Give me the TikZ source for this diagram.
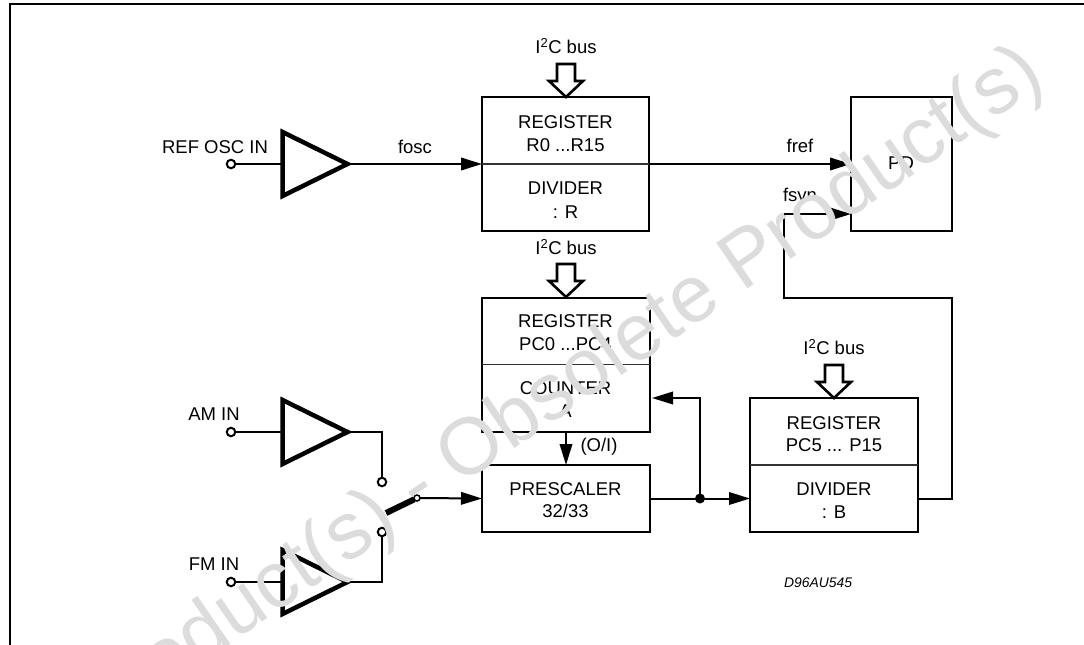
\documentclass[tikz,border=0pt]{standalone}
\usepackage{fontspec}
\setmainfont{Liberation Sans}
\usetikzlibrary{arrows.meta}
\definecolor{wm}{HTML}{DCDCDC}
\tikzset{
  x=1pt,y=-1pt,
  blockbox/.style={draw,line width=2pt,anchor=north west,inner sep=0pt,outer sep=0pt},
  divline/.style={line width=1.1pt,draw=black!80},
  wire/.style={line width=2pt},
  sig/.style={wire,-{Triangle[length=21pt,width=12.5pt]}},
  amp/.style={draw,line width=4.5pt,miter limit=10},
  term/.style={circle,draw,line width=2pt,fill=white,minimum size=8.5pt,inner sep=0pt,outer sep=0pt},
  bus/.style={draw,line width=2.6pt,fill=white,line join=miter,miter limit=10},
  lbl/.style={font=\fontsize{18.5pt}{22pt}\selectfont,inner sep=0pt,align=center},
  wmark/.style={text=wm,font=\fontsize{80.2pt}{84pt}\selectfont,rotate=34.5,inner sep=0pt}
}
\newcommand{\ampshape}[2]{\draw[amp] (#1,#2-32) -- (#1+65,#2) -- (#1,#2+32) -- cycle;}
\newcommand{\busarrow}[2]{\draw[bus] (#1-9,#2) -- (#1+9,#2) -- (#1+9,#2+17) -- (#1+17,#2+17) -- (#1,#2+33) -- (#1-17,#2+17) -- (#1-9,#2+17) -- cycle;}
\begin{document}
\begin{tikzpicture}
\useasboundingbox (0,0) rectangle (1084,645);
\clip (0,0) rectangle (1084,645);
\fill[white] (0,0) rectangle (1084,645);
% frame
\draw[line width=2.6pt] (10,645) -- (10,4) -- (1084,4);
% blocks
\node[blockbox,minimum width=167pt,minimum height=134pt] (R) at (482,97) {};
\node[blockbox,minimum width=168pt,minimum height=134pt] (C) at (482,297.5) {};
\node[blockbox,minimum width=168pt,minimum height=67pt] (P) at (482,465) {};
\node[blockbox,minimum width=168pt,minimum height=134pt] (B) at (750,398) {};
\node[blockbox,minimum width=101pt,minimum height=134pt] (PD) at (851,97) {};
\draw[divline] (R.west) -- (R.east);
\draw[divline] (C.west) -- (C.east);
\draw[divline] (B.west) -- (B.east);
% texts
\node[lbl] (t1) at (565.5,122) {REGISTER};
\node[lbl] (t2) at (565.5,145) {R0 ...R15};
\node[lbl] (t3) at (565.5,188) {DIVIDER};
\node[lbl] (t4) at (565.5,212) {: R};
\node[lbl] (t5) at (565.5,321) {REGISTER};
\node[lbl] (t6) at (565.5,344) {PC0 ...PC4};
\node[lbl] (t7) at (565.5,388) {COUNTER};
\node[lbl] (t8) at (565.5,411) {A};
\node[lbl] (t9) at (565.5,489) {PRESCALER};
\node[lbl] (t10) at (565.5,511) {32/33};
\node[lbl] (t11) at (834,423) {REGISTER};
\node[lbl] (t12) at (834,445) {PC5 ... P15};
\node[lbl] (t13) at (834,489) {DIVIDER};
\node[lbl] (t14) at (834,512) {: B};
\node[lbl] (pdt) at (901,163) {PD};
\node[lbl] (b1) at (566,46) {I\textsuperscript{2}C bus};
\node[lbl] (b2) at (566,247) {I\textsuperscript{2}C bus};
\node[lbl] (b3) at (834,347) {I\textsuperscript{2}C bus};
\node[lbl] (l1) at (215,147) {REF OSC IN};
\node[lbl] (l2) at (214,414) {AM IN};
\node[lbl] (l3) at (214,564) {FM IN};
\node[lbl] (f1) at (415,147) {fosc};
\node[lbl] (f2) at (800,146) {fref};
\node[lbl] (f3) at (800,197) {fsyn};
\node[lbl] (oi) at (599,447) {(O/I)};
\node[lbl,font=\fontsize{13.9pt}{16pt}\selectfont\itshape] (code) at (818,583) {D96AU545};
% bus arrows
\busarrow{566}{64}
\busarrow{566}{264}
\busarrow{834}{365}
% amps
\ampshape{282.5}{164}
\ampshape{282.5}{432}
\ampshape{282.5}{582}
\coordinate (a1) at (350,164);
\coordinate (a2) at (350,432);
\coordinate (a3) at (350,582);
% terminals
\coordinate (c1) at (282,164);
\coordinate (c2) at (282,432);
\coordinate (c3) at (282,582);
\node[term] (i1) at (231,164) {};
\node[term] (i2) at (231,432) {};
\node[term] (i3) at (231,582) {};
\draw[wire] (i1) -- (c1);
\draw[wire] (i2) -- (c2);
\draw[wire] (i3) -- (c3);
% wires
\draw[sig] (a1) -- (R.west);
\draw[sig] (R.east) -- (PD.west);
\node[term] (s1) at (382,482) {};
\node[term] (s2) at (382,532) {};
\draw[wire] (a2) -| (s1);
\draw[wire] (a3) -| (s2);
\node[term,minimum size=6pt,line width=1.5pt] (s3) at (417,498) {};
\coordinate (sw) at (386,513);
\draw[line width=6pt] (sw) -- (s3);
\draw[sig] (s3) -- (P.west);
\draw[sig] (C.south) -- (P.north);
\coordinate (j) at (700,498.5);
\coordinate (ce) at (700,398);
\coordinate (ct) at (652,398);
\coordinate (bin) at (750,498.5);
\draw[sig] (P.east) -- (bin);
\fill (j) circle (5pt);
\draw[sig] (j) -- (ce) -- (ct);
\coordinate (f0) at (918,498.5);
\coordinate (f1a) at (951.5,498.5);
\coordinate (f1b) at (951.5,298);
\coordinate (f1c) at (784,298);
\coordinate (f1d) at (784,214);
\coordinate (f1e) at (851,214);
\draw[wire] (f0) -- (f1a) -- (f1b) -- (f1c) -- (f1d);
\draw[sig] (f1d) -- (f1e);
% watermark
\node[wmark] (wm1) at (418.5,490) {Obsolete Product(s) - Obsolete Product(s)};
\end{tikzpicture}
\end{document}
